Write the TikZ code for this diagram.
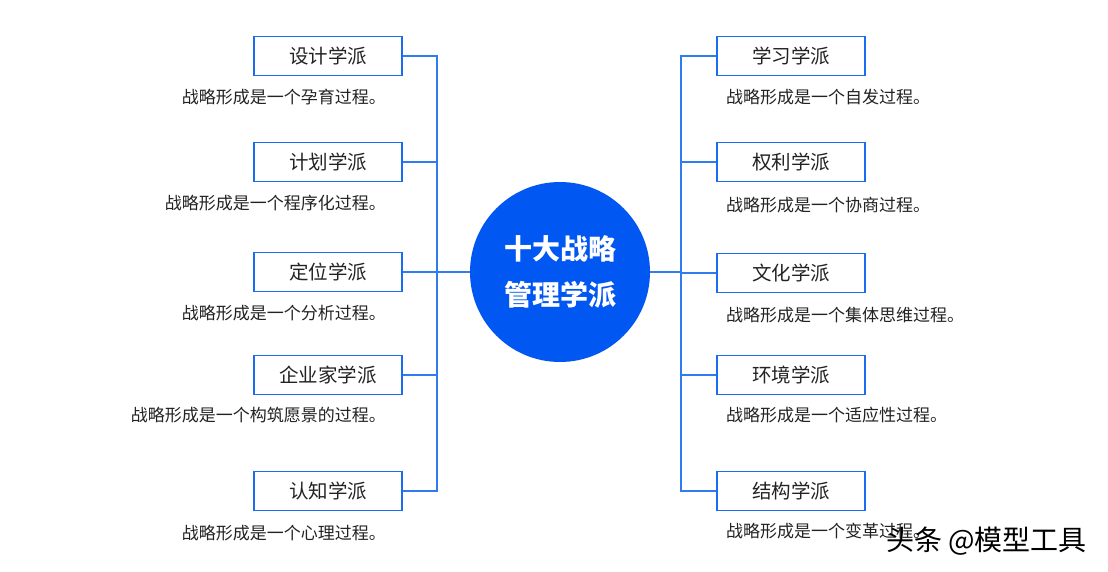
\documentclass[tikz,border=0pt]{standalone}
\usepackage{fontspec}
\setmainfont{Noto Sans CJK SC}
\usetikzlibrary{positioning, calc}
\definecolor{hubblue}{HTML}{0057F2}
\definecolor{boxblue}{HTML}{1A6CF0}
\definecolor{lineblue}{HTML}{2F7BF0}
\definecolor{txt}{HTML}{222222}
\tikzset{%
	hub/.style={circle, fill=hubblue, minimum size=180pt, inner sep=0pt,%
		text=white, font=\fontsize{28}{46}\selectfont\bfseries, align=center},
	school/.style={draw=boxblue, line width=1.7pt, rectangle, minimum width=148pt,%
		minimum height=39pt, inner sep=0pt, text=txt, font=\fontsize{19.5}{22}\selectfont},
	desc/.style={inner sep=0pt, text=txt, font=\fontsize{17}{18}\selectfont},
	connector/.style={draw=lineblue, line width=1.2pt},
	wmark/.style={inner sep=0pt, text=black, font=\fontsize{28}{30}\selectfont}
}
\begin{document}
\begin{tikzpicture}[x=1pt, y=-1pt]
	\useasboundingbox (0,0) rectangle (1108,572);
	\node[hub] (hub) at (560,272) {十大战略\\管理学派};
	\coordinate (lj) at (437,272);
	\coordinate (rj) at (681,272);
	
	% left side
	\node[school] (s1) at (328,56) {设计学派};
	\node[school] (s2) at (328,162) {计划学派};
	\node[school] (s3) at (328,272) {定位学派};
	\node[school] (s4) at (328,375) {企业家学派};
	\node[school] (s5) at (328,491) {认知学派};
	\node[desc, anchor=east] (d1) at (386,97) {战略形成是一个孕育过程。};
	\node[desc, anchor=east] (d2) at (386,203) {战略形成是一个程序化过程。};
	\node[desc, anchor=east] (d3) at (386,313) {战略形成是一个分析过程。};
	\node[desc, anchor=east] (d4) at (386,415) {战略形成是一个构筑愿景的过程。};
	\node[desc, anchor=east] (d5) at (386,533) {战略形成是一个心理过程。};
	
	% right side
	\node[school] (t1) at (791,56) {学习学派};
	\node[school] (t2) at (791,162) {权利学派};
	\node[school] (t3) at (791,273) {文化学派};
	\node[school] (t4) at (791,375) {环境学派};
	\node[school] (t5) at (791,491) {结构学派};
	\node[desc, anchor=west] (e1) at (726,97) {战略形成是一个自发过程。};
	\node[desc, anchor=west] (e2) at (726,205) {战略形成是一个协商过程。};
	\node[desc, anchor=west] (e3) at (726,315) {战略形成是一个集体思维过程。};
	\node[desc, anchor=west] (e4) at (726,415) {战略形成是一个适应性过程。};
	\node[desc, anchor=west] (e5) at (726,531) {战略形成是一个变革过程。};
	
	\draw[connector] (hub.west) -- (lj);
	\draw[connector] (hub.east) -- (rj);
	\draw[connector] (s1.east) -| (lj);
	\draw[connector] (s2.east) -| (lj);
	\draw[connector] (s3.east) -| (lj);
	\draw[connector] (s4.east) -| (lj);
	\draw[connector] (s5.east) -| (lj);
	\draw[connector] (t1.west) -| (rj);
	\draw[connector] (t2.west) -| (rj);
	\draw[connector] (t3.west) -| (rj);
	\draw[connector] (t4.west) -| (rj);
	\draw[connector] (t5.west) -| (rj);
	
	\node[wmark, anchor=west] (wm) at (886,541) {头条 @模型工具};
\end{tikzpicture}
\end{document}
